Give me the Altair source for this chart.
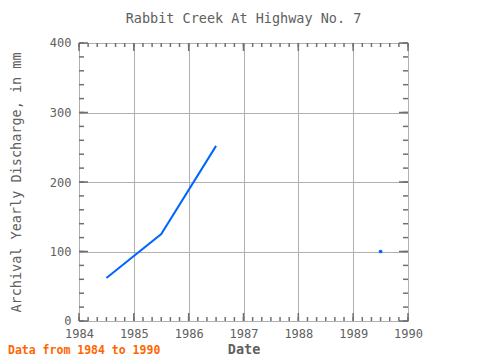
import altair as alt
import pandas as pd

# ---- data ----
years = [1984.5, 1985.5, 1986.5, 1987.5, 1988.5, 1989.5]
discharge = [62, 125, 252, None, None, 100]

x_major = [1984, 1985, 1986, 1987, 1988, 1989, 1990]
y_major = [0, 100, 200, 300, 400]
x_minor = [1984 + i / 6 for i in range(37)]
y_minor = list(range(0, 401, 20))

W, H = 329, 278
AX = "#707070"
TXT = "#606060"

iso = []
for i, v in enumerate(discharge):
    prev_none = i == 0 or discharge[i - 1] is None
    next_none = i == len(discharge) - 1 or discharge[i + 1] is None
    iso.append(v is not None and prev_none and next_none)

df = pd.DataFrame({"year": years, "q": discharge, "iso": iso})

xs = alt.Scale(domain=[1984, 1990], nice=False, zero=False)
ys = alt.Scale(domain=[0, 400], nice=False, zero=True)

xaxis = alt.Axis(values=x_major, format="d", title="Date", grid=True, ticks=False,
                 domain=False, labelPadding=7, titlePadding=3, labelFlush=False,
                 labelFont="DejaVu Sans Mono",
                 labelFontSize=12, labelColor=TXT, titleFont="DejaVu Sans Mono",
                 titleFontSize=13.5, titleFontWeight="bold", titleColor=TXT,
                 gridColor="#b0b0b0", gridWidth=1)
yaxis = alt.Axis(values=y_major, format="d", title="Archival Yearly Discharge, in mm",
                 grid=True, ticks=False, domain=False, labelPadding=8, titlePadding=26,
                 labelFlush=True, labelFlushOffset=6,
                 labelFont="DejaVu Sans Mono", labelFontSize=12, labelColor=TXT,
                 titleFont="DejaVu Sans Mono", titleFontSize=13.5, titleFontWeight="normal",
                 titleColor=TXT, gridColor="#b0b0b0", gridWidth=1)

base = alt.Chart(df)
line = base.mark_line(color="#0066ff", strokeWidth=2).encode(
    x=alt.X("year:Q", scale=xs, axis=xaxis),
    y=alt.Y("q:Q", scale=ys, axis=yaxis),
)
dots = base.transform_filter("datum.iso").mark_circle(color="#0066ff", size=14, opacity=1).encode(
    x=alt.X("year:Q", scale=xs), y=alt.Y("q:Q", scale=ys)
)

ymin_df = pd.DataFrame({"v": y_minor})
ymaj_df = pd.DataFrame({"v": y_major})
xmin_df = pd.DataFrame({"v": x_minor})
xmaj_df = pd.DataFrame({"v": x_major})

def yticks(d, ln):
    l = alt.Chart(d).mark_rule(color=AX, strokeWidth=1.5).encode(
        y=alt.Y("v:Q", scale=ys), x=alt.value(0), x2=alt.value(ln))
    r = alt.Chart(d).mark_rule(color=AX, strokeWidth=1.5).encode(
        y=alt.Y("v:Q", scale=ys), x=alt.value(W - ln), x2=alt.value(W))
    return [l, r]

def xticks(d, ln):
    t = alt.Chart(d).mark_rule(color=AX, strokeWidth=1.5).encode(
        x=alt.X("v:Q", scale=xs), y=alt.value(0), y2=alt.value(ln))
    b = alt.Chart(d).mark_rule(color=AX, strokeWidth=1.5).encode(
        x=alt.X("v:Q", scale=xs), y=alt.value(H - ln), y2=alt.value(H))
    return [t, b]

foot = alt.Chart(pd.DataFrame({"t": ["Data from 1984 to 1990"]})).mark_text(
    align="left", baseline="alphabetic", font="DejaVu Sans Mono", fontSize=11.5,
    fontWeight="bold", color="#ff6600"
).encode(text="t:N", x=alt.value(-71), y=alt.value(H + 33))

chart = alt.layer(
    line, dots, *yticks(ymin_df, 5), *yticks(ymaj_df, 9), *xticks(xmin_df, 4), *xticks(xmaj_df, 8), foot
).properties(
    width=W, height=H,
    title=alt.TitleParams("Rabbit Creek At Highway No. 7", font="DejaVu Sans Mono", fontSize=13.5,
                          fontWeight="normal", color=TXT, offset=11, anchor="middle"),
    autosize=alt.AutoSizeParams(type="none"),
    padding={"left": 71, "top": 35, "right": 64, "bottom": 35},
).configure_view(stroke=AX, strokeWidth=2).configure(background="white")

chart.save("out.html", embed_options={"renderer": "svg", "actions": False})
